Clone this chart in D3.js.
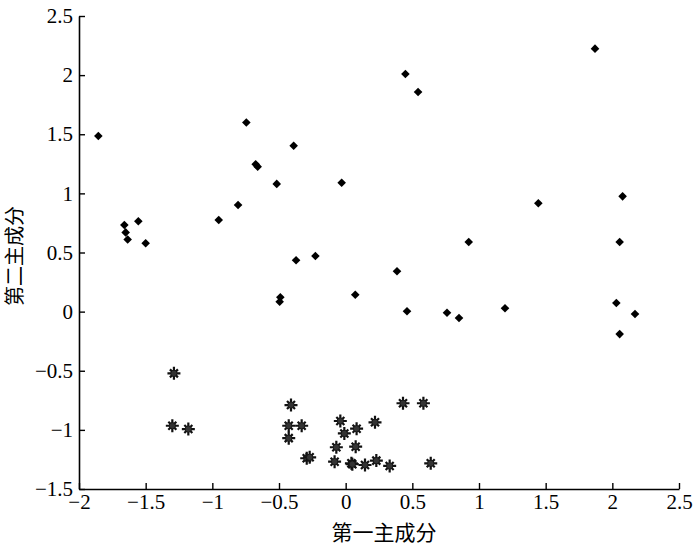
<!DOCTYPE html>
<html>
<head>
<meta charset="utf-8">
<script src="https://d3js.org/d3.v7.min.js"></script>
<style>
body { margin: 0; background: #fff; }
</style>
</head>
<body>
<script>
var width = 700;
var height = 550;

// class 1 (diamonds)
var diamondX = [-1.855, -1.66, -1.65, -1.635, -1.555, -1.50, -0.745, -0.39, -0.675, -0.66,
    -0.517, -0.03, -0.807, -0.952, -0.372, -0.227, -0.49, -0.495, 0.072,
    1.87, 0.448, 0.543, 1.445, 2.077, 0.923, 2.055, 0.385, 0.46, 0.76, 0.85, 1.195, 2.03, 2.17, 2.055];
var diamondY = [1.485, 0.733, 0.67, 0.61, 0.764, 0.578, 1.60, 1.403, 1.246, 1.226,
    1.08, 1.09, 0.902, 0.775, 0.434, 0.47, 0.121, 0.084, 0.143,
    2.224, 2.01, 1.857, 0.916, 0.975, 0.589, 0.589, 0.341, 0.003, -0.009, -0.054, 0.028, 0.073, -0.02, -0.19];

// class 2 (asterisks)
var starX = [-1.288, -1.30, -1.18, -0.41, -0.427, -0.33, -0.427, -0.292, -0.27, -0.04, -0.01, 0.082,
    0.22, -0.07, 0.075, -0.083, 0.043, 0.05, 0.145, 0.23, 0.33, 0.43, 0.583, 0.638];
var starY = [-0.522, -0.965, -0.993, -0.79, -0.965, -0.965, -1.07, -1.24, -1.232, -0.925, -1.03, -0.99,
    -0.936, -1.147, -1.142, -1.269, -1.283, -1.29, -1.297, -1.26, -1.305, -0.775, -0.775, -1.283];

var xTicks = [-2, -1.5, -1, -0.5, 0, 0.5, 1, 1.5, 2, 2.5];
var yTicks = [-1.5, -1, -0.5, 0, 0.5, 1, 1.5, 2, 2.5];
var xTitle = "第一主成分";
var yTitle = "第二主成分";

// plot box (window.top is read-only, so prefixed names)
var plotLeft = 79, plotRight = 679, plotTop = 16, plotBottom = 489;

var x = d3.scaleLinear().domain([-2, 2.5]).range([plotLeft, plotRight]);
var y = d3.scaleLinear().domain([-1.5, 2.5]).range([plotBottom, plotTop]);

var svg = d3.select("body")
.append("svg")
.attr("width", width)
.attr("height", height)
.attr("id","svg");

var numFont = "'Liberation Serif', 'DejaVu Serif', serif";
var cjkFont = "'Noto Sans CJK SC', sans-serif";

function fmt(d){
    return String(d).replace("-", "\u2212");
}

// axes, ticks pointing inward
var xAxis = svg.append("g")
.attr("transform", "translate(0," + plotBottom + ")")
.call(d3.axisBottom(x).tickValues(xTicks).tickSizeInner(-6).tickSizeOuter(0).tickPadding(10).tickFormat(fmt));

var yAxis = svg.append("g")
.attr("transform", "translate(" + plotLeft + ",0)")
.call(d3.axisLeft(y).tickValues(yTicks).tickSizeInner(-6).tickSizeOuter(0).tickPadding(9).tickFormat(fmt));

[xAxis, yAxis].forEach(function(a){
    a.select(".domain").attr("stroke", "#000").attr("stroke-width", 1.6);
    a.selectAll(".tick line").attr("stroke", "#000").attr("stroke-width", 1.4);
    a.selectAll(".tick text")
    .attr("fill", "#000")
    .style("font-family", numFont)
    .style("font-size", "21px");
});
xAxis.selectAll(".tick text").attr("y", 4).attr("dy", "0.75em");
yAxis.selectAll(".tick text").attr("x", -6);

// points
var diamonds = diamondX.map(function(d, i){ return [d, diamondY[i]]; });
var stars = starX.map(function(d, i){ return [d, starY[i]]; });

svg.append("g")
.selectAll(".dia")
.data(diamonds)
.enter().append("path")
.attr("class","dia")
.attr("d", "M0,-4.3L4.3,0L0,4.3L-4.3,0Z")
.attr("transform", function(d){ return "translate(" + x(d[0]) + "," + y(d[1]) + ")"; })
.attr("fill","#000");

var starPath = "M0,-6.5V6.5M-6.5,0H6.5M-4,-4L4,4M-4,4L4,-4";
var sg = svg.append("g")
.selectAll(".star")
.data(stars)
.enter().append("g")
.attr("class","star")
.attr("transform", function(d){ return "translate(" + x(d[0]) + "," + y(d[1]) + ")"; });
sg.append("path")
.attr("d", starPath)
.attr("stroke","#111")
.attr("stroke-width", 2.2)
.attr("fill","none");
sg.append("circle")
.attr("r", 3.2)
.attr("fill","#333")
.attr("stroke","#111")
.attr("stroke-width", 0.8);

// titles
svg.append("text")
.attr("x", 384)
.attr("y", 540)
.attr("text-anchor","middle")
.style("font-family", cjkFont)
.style("font-size","21px")
.attr("fill","#000")
.text(xTitle);

svg.append("text")
.attr("transform","translate(22,256) rotate(-90)")
.attr("text-anchor","middle")
.style("font-family", cjkFont)
.style("font-size","20px")
.attr("fill","#000")
.text(yTitle);
</script>
</body>
</html>
